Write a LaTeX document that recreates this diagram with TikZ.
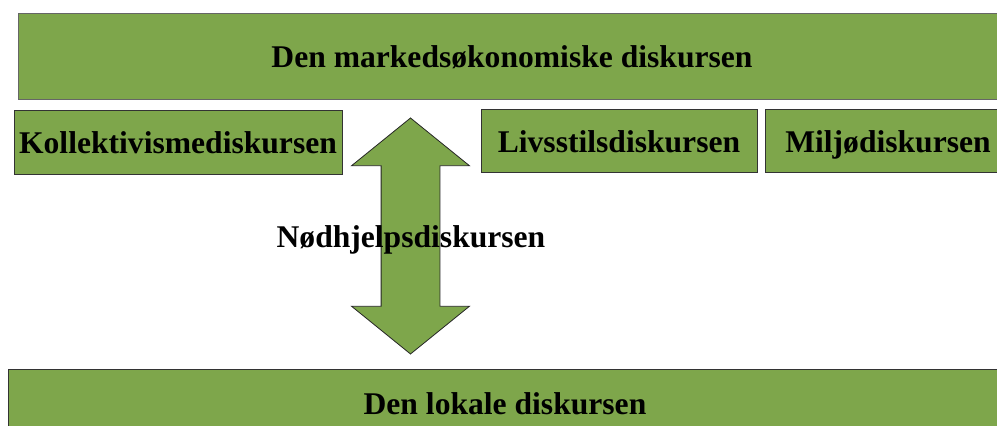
\documentclass[tikz,border=0pt]{standalone}
\usepackage{fontspec}
\setmainfont{Liberation Serif}
\usetikzlibrary{positioning,shapes.arrows}
\definecolor{diskgreen}{HTML}{7EA64B}
\tikzset{
	diskurs/.style={
		rectangle,
		fill=diskgreen,
		draw=black!80, thin,
		font=\bfseries\fontsize{15.8}{19}\selectfont,
		text height=14pt, text depth=2pt,
		inner sep=0pt,
		text centered},
	dobbelpil/.style={
		double arrow,
		rotate=90,
		fill=diskgreen,
		draw=black!85, thin,
		inner xsep=0pt, inner ysep=14.5pt,
		double arrow head extend=14.75pt,
		double arrow tip angle=102,
		minimum height=118pt,
		minimum width=58.5pt},
	pilnavn/.style={
		font=\bfseries\fontsize{15.8}{19}\selectfont,
		text height=14pt, text depth=2pt,
		inner sep=0pt},
}

\begin{document}
\begin{tikzpicture}
[x=0.5pt, y=-0.5pt]
\useasboundingbox (0,0) rectangle (997,426);
% the diskurses at the top
\node[diskurs, draw=black!60, minimum width=494pt, minimum height=43pt] (marked) at (512,56) {Den markedsøkonomiske diskursen};
\node[diskurs, minimum width=164pt, minimum height=32pt] (kollektiv) at (178,142) {Kollektivismediskursen};
\node[diskurs, minimum width=138pt, minimum height=31.5pt] (livsstil) at (619,140.5) {Livsstilsdiskursen};
\node[diskurs, minimum width=123pt, minimum height=31.5pt] (miljo) at (888,140.5) {Miljødiskursen};
% the local diskurs
\node[diskurs, minimum width=497pt, minimum height=34pt] (lokal) at (505,403) {Den lokale diskursen};
% arrow between them
\node[dobbelpil] (pil) at (410.5,236) {};
\node[pilnavn] (nodhjelp) at (411,236) {Nødhjelpsdiskursen};
\end{tikzpicture}
\end{document}
